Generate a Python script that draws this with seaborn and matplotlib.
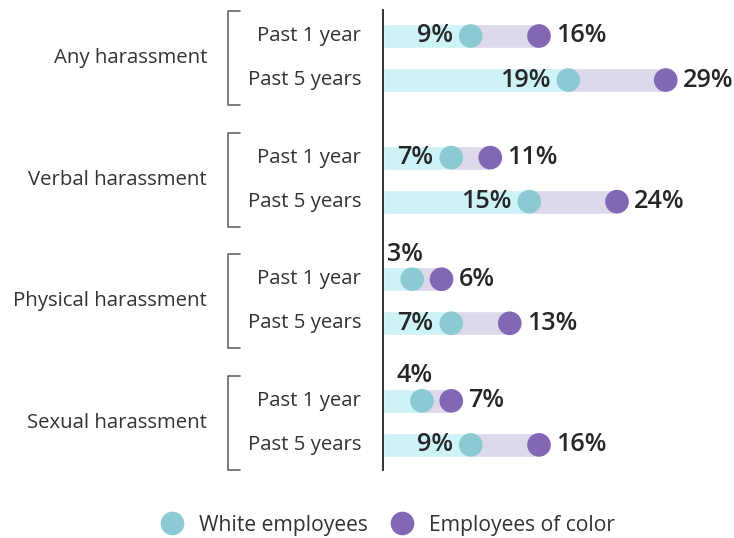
import numpy as np
import pandas as pd
import matplotlib.pyplot as plt
import matplotlib.transforms as mtransforms
from matplotlib.lines import Line2D
import seaborn as sns

# dados
grupos = ["Any harassment", "Verbal harassment", "Physical harassment", "Sexual harassment"]
periodos = ["Past 1 year", "Past 5 years"]
brancos = [9, 19, 7, 15, 3, 7, 4, 9]
cor = [16, 29, 11, 24, 6, 13, 7, 16]
serie_nomes = ["White employees", "Employees of color"]

COR_BRANCO = "#8ccad3"
COR_COR = "#8268b4"
BARRA_BRANCO = "#cdf3f7"
BARRA_COR = "#ddd8ea"
TEXTO = "#262626"

sns.set_style("white")
plt.rcParams["font.family"] = ["Open Sans", "DejaVu Sans"]

# posicoes das linhas (unidades de 44 px)
passo_grupo = 2.76
ys = []
for i in range(len(grupos)):
    for j in range(len(periodos)):
        ys.append(i * passo_grupo + j)
ys = np.array(ys)

df = pd.DataFrame({
    "y": np.concatenate([ys, ys]),
    "valor": brancos + cor,
    "serie": [serie_nomes[0]] * len(ys) + [serie_nomes[1]] * len(ys),
})

W, H = 734, 538
fig = plt.figure(figsize=(W / 100, H / 100), dpi=100)
ax = fig.add_axes([383 / W, (H - 470) / H, (W - 383) / W, 460 / H])

ax.barh(ys, brancos, height=0.545, color=BARRA_BRANCO, zorder=1)
ax.barh(ys, np.array(cor) - np.array(brancos), left=brancos, height=0.545,
        color=BARRA_COR, zorder=1)

sns.scatterplot(data=df, x="valor", y="y", hue="serie",
                palette=[COR_BRANCO, COR_COR], s=290, linewidth=0,
                legend=False, ax=ax, zorder=3)

ax.set_xlim(0, 36)
ax.set_ylim(ys[-1] + 0.57, -0.59)

px = mtransforms.offset_copy  # atalho
tam_num = 18.2
for y, b, c in zip(ys, brancos, cor):
    if b >= 5:
        ax.text(b, y, f"{b}%", ha="right", va="center", fontsize=tam_num,
                fontweight="semibold", color=TEXTO,
                transform=px(ax.transData, fig=fig, x=-18, y=0, units="dots"))
    else:
        ax.text(b, y, f"{b}%", ha="right", va="center", fontsize=tam_num,
                fontweight="semibold", color=TEXTO,
                transform=px(ax.transData, fig=fig, x=11, y=25, units="dots"))
    ax.text(c, y, f"{c}%", ha="left", va="center", fontsize=tam_num,
            fontweight="semibold", color=TEXTO,
            transform=px(ax.transData, fig=fig, x=17, y=0, units="dots"))

ax.set_xticks([])
ax.set_yticks([])
ax.set_xlabel("")
ax.set_ylabel("")
for lado in ["top", "right", "bottom"]:
    ax.spines[lado].set_visible(False)
ax.spines["left"].set_color("#333333")
ax.spines["left"].set_linewidth(1.4)

# rotulos a esquerda e chaves
mist = mtransforms.blended_transform_factory(fig.transFigure, ax.transData)
for i, g in enumerate(grupos):
    y0 = ys[2 * i]
    y1 = ys[2 * i + 1]
    centro = (y0 + y1) / 2
    ax.text(207 / W, centro, g, ha="right", va="center", fontsize=14.7,
            color="#333333", transform=mist, clip_on=False)
    topo = centro - 47 / 44
    base = centro + 47 / 44
    linha = Line2D([240 / W, 228 / W, 228 / W, 240 / W], [topo, topo, base, base],
                   transform=mist, color="#666666", lw=1.2, clip_on=False)
    ax.add_line(linha)
    for j, p in enumerate(periodos):
        ax.text(361 / W, ys[2 * i + j], p, ha="right", va="center", fontsize=14.7,
                color="#333333", transform=mist, clip_on=False)

handles = [Line2D([], [], marker="o", ls="", markersize=16, color=COR_BRANCO),
           Line2D([], [], marker="o", ls="", markersize=16, color=COR_COR)]
fig.legend(handles, serie_nomes, loc="center", bbox_to_anchor=(383 / W, 1 - 525 / H),
           ncol=2, frameon=False, fontsize=15.2, handletextpad=0.3, columnspacing=0.6,
           labelcolor="#333333")

fig.savefig("out.png", dpi=100)
